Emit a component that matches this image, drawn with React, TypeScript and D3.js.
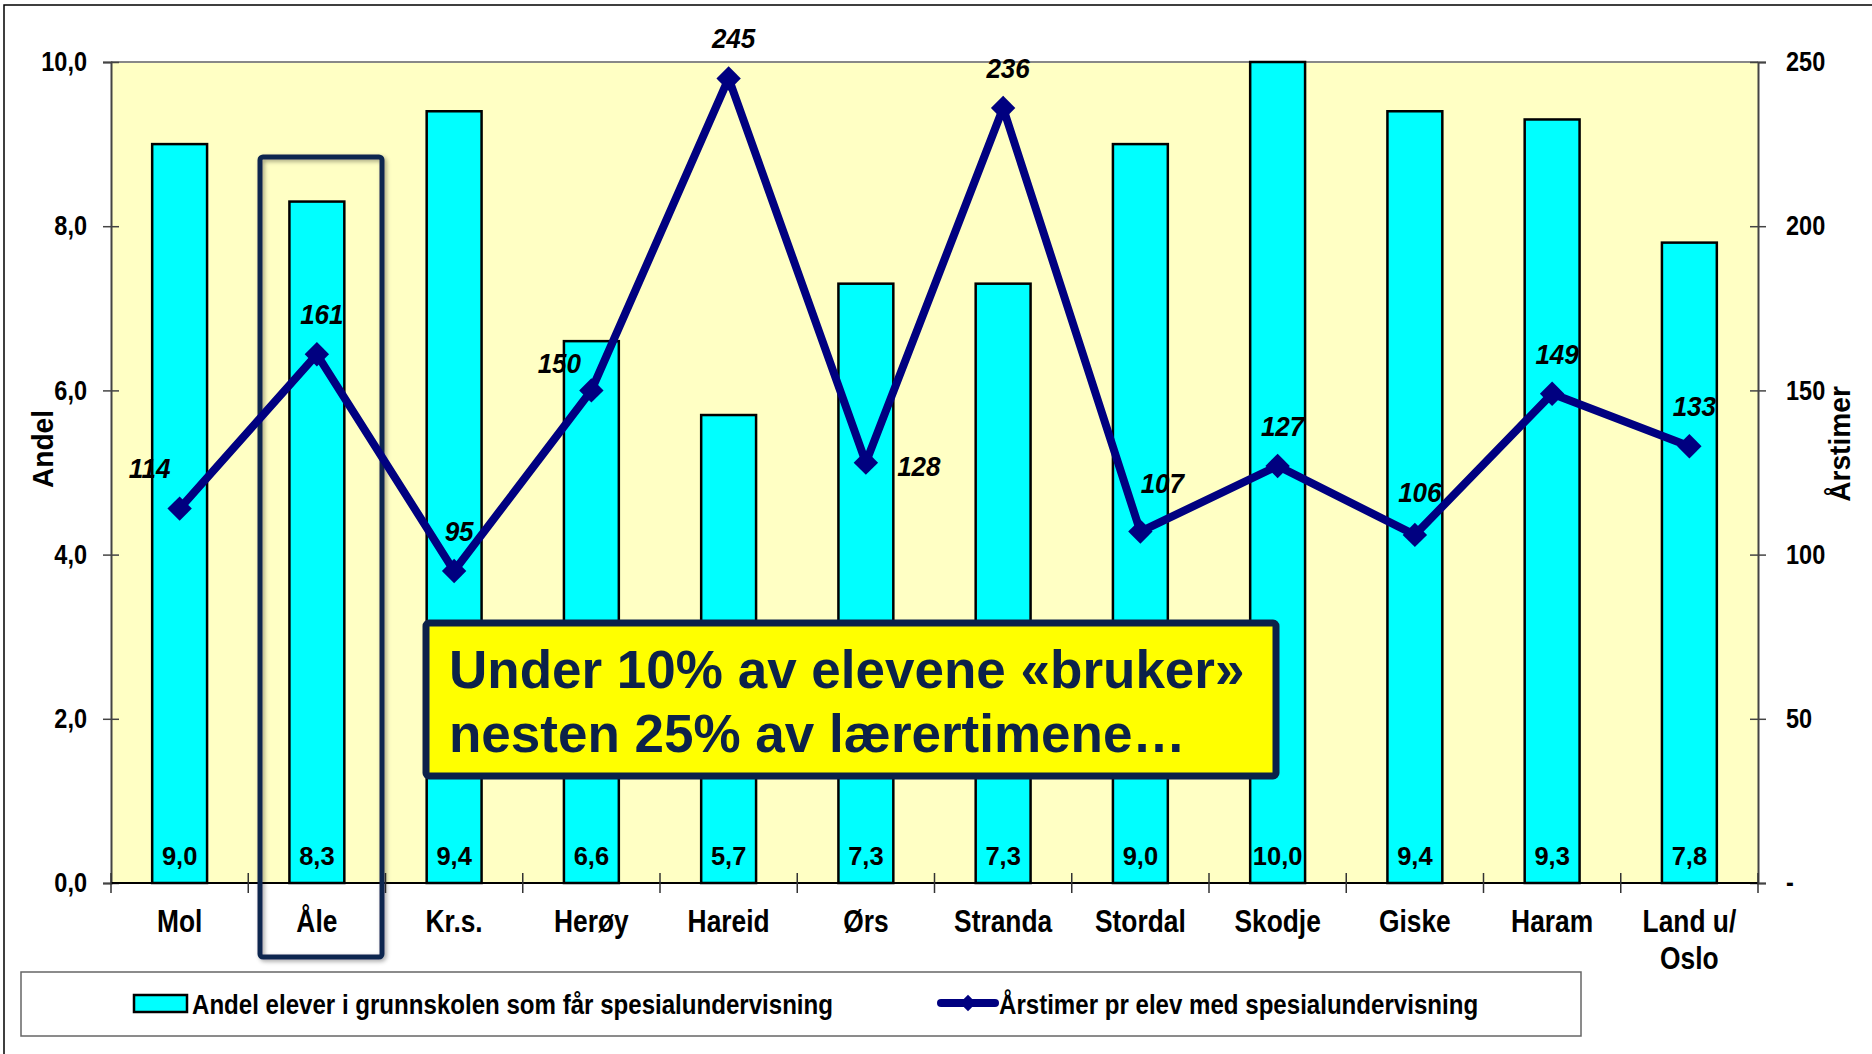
import { useEffect, useRef } from "react";
import * as d3 from "d3";

const categories = ["Mol", "Åle", "Kr.s.", "Herøy", "Hareid", "Ørs", "Stranda", "Stordal", "Skodje", "Giske", "Haram", "Land u/\nOslo"];
const andel = [9.0, 8.3, 9.4, 6.6, 5.7, 7.3, 7.3, 9.0, 10.0, 9.4, 9.3, 7.8];
const arstimer = [114, 161, 95, 150, 245, 128, 236, 107, 127, 106, 149, 133];
const leftTicks = [0, 2, 4, 6, 8, 10];
const rightTicks = [0, 50, 100, 150, 200, 250];
const barSeriesName = "Andel elever i grunnskolen som får spesialundervisning";
const lineSeriesName = "Årstimer pr elev med spesialundervisning";
const calloutLines = ["Under 10% av elevene «bruker»", "nesten 25% av lærertimene…"];

// no Arial Narrow here: Liberation Sans squeezed horizontally afterwards (data-sq)
const FONT = "'Liberation Sans', Arial, sans-serif";
const NAVY = "#000080";
const DARK = "#0c2249";

// label nudges for the line values (default above the point)
const labelNudge: Record<number, [number, number]> = {
  0: [-30, -31],
  3: [-32, -17],
  5: [53, 13],
  7: [22, -39],
  9: [5, -33],
};

const W = 1872, H = 1054;
const plot = { left: 111, right: 1758, top: 62, bottom: 883 };

const comma = (d: number) => d3.format(".1f")(d).replace(".", ",");

export default function App() {
  const ref = useRef<SVGSVGElement>(null);

  useEffect(() => {
    document.body.style.margin = "0";
    const svg = d3.select(ref.current);
    svg.selectAll("*").remove();

    const defs = svg.append("defs");
    const shadow = defs.append("filter").attr("id", "shadow").attr("x", -0.2).attr("y", -0.2).attr("width", 1.4).attr("height", 1.4);
    shadow.append("feDropShadow").attr("dx", 2).attr("dy", 2).attr("stdDeviation", 2).attr("flood-color", "#000").attr("flood-opacity", 0.35);

    // outer frame
    svg.append("path").attr("d", `M4,${H} V5 H${W}`).attr("fill", "none").attr("stroke", "#000").attr("stroke-width", 1.5);

    const x = d3.scaleBand<string>().domain(categories).range([plot.left, plot.right]);
    const yL = d3.scaleLinear().domain([0, 10]).range([plot.bottom, plot.top]);
    const yR = d3.scaleLinear().domain([0, 250]).range([plot.bottom, plot.top]);
    const bw = x.bandwidth() * 0.4;
    const cx = (c: string) => (x(c) as number) + x.bandwidth() / 2;

    // plot background
    svg.append("rect")
      .attr("x", plot.left).attr("y", plot.top)
      .attr("width", plot.right - plot.left).attr("height", plot.bottom - plot.top)
      .attr("fill", "#FFFFC4");
    svg.append("line")
      .attr("x1", plot.left).attr("x2", plot.right).attr("y1", plot.top).attr("y2", plot.top)
      .attr("stroke", "#888").attr("stroke-width", 2);

    // bars
    svg.append("g").selectAll("rect").data(andel).join("rect")
      .attr("x", (_, i) => cx(categories[i]) - bw / 2)
      .attr("y", d => yL(d))
      .attr("width", bw)
      .attr("height", d => yL(0) - yL(d))
      .attr("fill", "#00FFFF")
      .attr("stroke", "#000")
      .attr("stroke-width", 2.5);

    svg.append("g").selectAll("text").data(andel).join("text")
      .attr("x", (_, i) => cx(categories[i]))
      .attr("y", plot.bottom - 18)
      .attr("text-anchor", "middle")
      .attr("data-sq", 0.98)
      .style("font-family", FONT).style("font-weight", "bold").style("font-size", "26px")
      .text(d => comma(d));

    // left axis
    const gl = svg.append("g").attr("transform", `translate(${plot.left},0)`)
      .call(d3.axisLeft(yL).tickValues(leftTicks).tickSize(8).tickPadding(16).tickFormat(d => comma(+d)));
    gl.select(".domain").attr("stroke", "#444").attr("stroke-width", 2);
    gl.selectAll(".tick line").attr("x1", 8).attr("stroke", "#444").attr("stroke-width", 1.5);
    gl.selectAll(".tick text").attr("data-sq", 0.87)
      .style("font-family", FONT).style("font-weight", "bold").style("font-size", "27px").attr("fill", "#000");

    // right axis
    const gr = svg.append("g").attr("transform", `translate(${plot.right},0)`)
      .call(d3.axisRight(yR).tickValues(rightTicks).tickSize(8).tickPadding(20).tickFormat(d => (+d === 0 ? "-" : String(d))));
    gr.select(".domain").attr("stroke", "#444").attr("stroke-width", 2);
    gr.selectAll(".tick line").attr("x1", -8).attr("stroke", "#444").attr("stroke-width", 1.5);
    gr.selectAll(".tick text").attr("data-sq", 0.87)
      .style("font-family", FONT).style("font-weight", "bold").style("font-size", "27px").attr("fill", "#000");

    // bottom axis
    svg.append("line")
      .attr("x1", plot.left).attr("x2", plot.right).attr("y1", plot.bottom).attr("y2", plot.bottom)
      .attr("stroke", "#000").attr("stroke-width", 2);
    const bounds = [...categories.map(c => x(c) as number), plot.right];
    svg.append("g").selectAll("line").data(bounds).join("line")
      .attr("x1", d => d).attr("x2", d => d)
      .attr("y1", plot.bottom - 10).attr("y2", plot.bottom + 10)
      .attr("stroke", "#333").attr("stroke-width", 1.5);

    const xl = svg.append("g").selectAll("text").data(categories).join("text")
      .attr("text-anchor", "middle")
      .attr("data-sq", 0.85)
      .style("font-family", FONT).style("font-weight", "bold").style("font-size", "31px");
    xl.each(function (c) {
      const t = d3.select(this);
      c.split("\n").forEach((part, k) => {
        t.append("tspan").attr("x", cx(c)).attr("y", 932 + k * 37).text(part);
      });
    });

    // axis titles
    svg.append("text")
      .attr("transform", `translate(53,449) rotate(-90)`)
      .attr("text-anchor", "middle")
      .attr("data-sq", 0.97)
      .style("font-family", FONT).style("font-weight", "bold").style("font-size", "29px")
      .text("Andel");
    svg.append("text")
      .attr("transform", `translate(1850,444) rotate(-90)`)
      .attr("text-anchor", "middle")
      .attr("data-sq", 0.97)
      .style("font-family", FONT).style("font-weight", "bold").style("font-size", "29px")
      .text("Årstimer");

    // highlight box around Åle
    svg.append("rect")
      .attr("x", 260).attr("y", 157).attr("width", 122).attr("height", 800)
      .attr("rx", 3)
      .attr("fill", "none").attr("stroke", "#10254f").attr("stroke-width", 5)
      .attr("filter", "url(#shadow)");

    // line series
    const line = d3.line<number>()
      .x((_, i) => cx(categories[i]))
      .y(d => yR(d));
    svg.append("path").datum(arstimer)
      .attr("d", line)
      .attr("fill", "none").attr("stroke", NAVY).attr("stroke-width", 8).attr("stroke-linejoin", "miter");

    const diamond = d3.symbol().type(d3.symbolDiamond2).size(380);
    svg.append("g").selectAll("path").data(arstimer).join("path")
      .attr("d", diamond)
      .attr("transform", (d, i) => `translate(${cx(categories[i])},${yR(d)})`)
      .attr("fill", NAVY);

    svg.append("g").selectAll("text").data(arstimer).join("text")
      .attr("x", (_, i) => cx(categories[i]) + (labelNudge[i] ? labelNudge[i][0] : 5))
      .attr("y", (d, i) => yR(d) + (labelNudge[i] ? labelNudge[i][1] : -30))
      .attr("text-anchor", "middle")
      .attr("data-sq", 0.93)
      .style("font-family", FONT).style("font-weight", "bold").style("font-style", "italic").style("font-size", "28px")
      .text(d => String(d));

    // callout
    svg.append("rect")
      .attr("x", 426).attr("y", 623).attr("width", 850).attr("height", 153)
      .attr("rx", 3)
      .attr("fill", "#FFFF00").attr("stroke", DARK).attr("stroke-width", 7);
    svg.append("g").selectAll("text").data(calloutLines).join("text")
      .attr("x", 449)
      .attr("y", (_, i) => 688 + i * 64)
      .attr("fill", DARK)
      .style("font-family", FONT).style("font-weight", "bold").style("font-size", "53px")
      .text(d => d);

    // legend
    svg.append("rect")
      .attr("x", 21).attr("y", 972).attr("width", 1560).attr("height", 64)
      .attr("fill", "#fff").attr("stroke", "#666").attr("stroke-width", 1.5);
    svg.append("rect")
      .attr("x", 134).attr("y", 995).attr("width", 53).attr("height", 17)
      .attr("fill", "#00FFFF").attr("stroke", "#000").attr("stroke-width", 2.5);
    svg.append("text")
      .attr("x", 192).attr("y", 1014)
      .attr("data-sq", 0.86)
      .style("font-family", FONT).style("font-weight", "bold").style("font-size", "28px")
      .text(barSeriesName);
    svg.append("line")
      .attr("x1", 941).attr("x2", 995).attr("y1", 1003).attr("y2", 1003)
      .attr("stroke", NAVY).attr("stroke-width", 8).attr("stroke-linecap", "round");
    svg.append("path")
      .attr("d", d3.symbol().type(d3.symbolDiamond2).size(170))
      .attr("transform", "translate(968,1003)")
      .attr("fill", NAVY);
    svg.append("text")
      .attr("x", 999).attr("y", 1014)
      .attr("data-sq", 0.86)
      .style("font-family", FONT).style("font-weight", "bold").style("font-size", "28px")
      .text(lineSeriesName);

    // squeeze text runs that should look like a narrow face
    svg.selectAll<SVGTextElement, unknown>("text[data-sq]").each(function () {
      const k = +(this.getAttribute("data-sq") || 1);
      const tspans = this.querySelectorAll("tspan");
      const nodes: SVGTextContentElement[] = tspans.length ? Array.from(tspans) : [this];
      nodes.forEach(n => {
        const len = n.getComputedTextLength();
        if (len > 0) {
          n.setAttribute("textLength", String(len * k));
          n.setAttribute("lengthAdjust", "spacingAndGlyphs");
        }
      });
    });
  }, []);

  return <svg ref={ref} width={W} height={H} style={{ display: "block", background: "#fff" }} />;
}
